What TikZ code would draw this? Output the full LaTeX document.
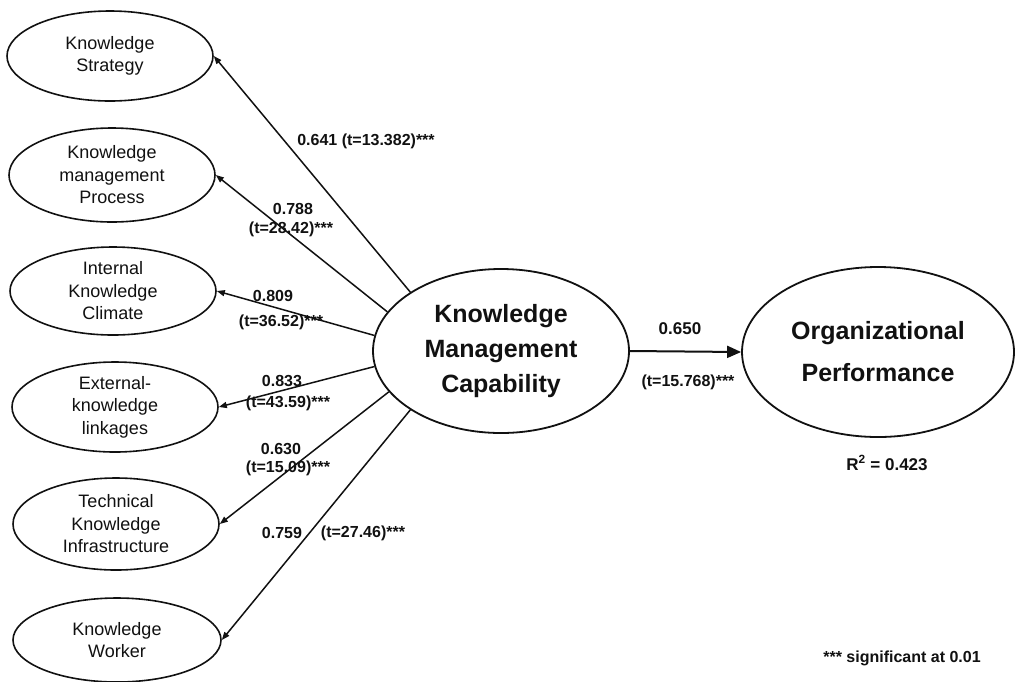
\documentclass[tikz,border=0pt]{standalone}
\usepackage{fontspec}
\setmainfont{Liberation Sans}
\usetikzlibrary{arrows.meta,shapes.geometric}
\definecolor{ink}{HTML}{111111}
\tikzset{
  latent/.style={ellipse, draw=ink, line width=1.6pt, inner sep=0pt, minimum width=206pt, minimum height=90pt, align=center, text=ink, font=\fontsize{18}{22.5}\selectfont},
  core/.style={ellipse, draw=ink, line width=1.8pt, inner sep=0pt, align=center, text=ink, font=\fontsize{25}{35}\selectfont\bfseries},
  coef/.style={font=\fontsize{16}{19}\selectfont\bfseries, text=ink, inner sep=0pt},
  load/.style={draw=ink, line width=1.5pt, -{Triangle[length=8pt,width=6pt]}},
}

\begin{document}
\begin{tikzpicture}[x=1pt, y=-1pt]
\useasboundingbox[fill=white] (0,0) rectangle (1017,681);
\node[latent] (ks) at (110,56) {Knowledge\\Strategy};
\node[latent, minimum height=94pt] (kmp) at (112,175) {Knowledge\\management\\Process};
\node[latent, minimum height=88pt] (ikc) at (113,291) {Internal\\Knowledge\\Climate};
\node[latent] (ekl) at (115,407) {External-\\knowledge\\linkages};
\node[latent, minimum height=92pt] (tki) at (116,524) {Technical\\Knowledge\\Infrastructure};
\node[latent, minimum height=84pt, minimum width=208pt] (kw) at (117,640) {Knowledge\\Worker};
\node[core, minimum width=256pt, minimum height=164pt] (kmc) at (501,351) {Knowledge\\Management\\Capability};
\node[core, minimum width=272pt, minimum height=170pt, font=\fontsize{25}{42}\selectfont\bfseries] (op) at (878,352) {Organizational\\Performance};
\draw[load] (kmc.147) -- (ks.east);
\draw[load] (kmc.161) -- (kmp.east);
\draw[load] (kmc.173) -- (ikc.east);
\draw[load] (kmc.187) -- (ekl.east);
\draw[load] (kmc.200) -- (tki.east);
\draw[load] (kmc.213) -- (kw.east);
\draw[load, line width=2pt, -{Triangle[length=14pt,width=12pt]}] (kmc.east) -- (op.west);
\node[coef] (c1) at (366,141) {0.641 (t=13.382)***};
\node[coef] (c2) at (293,209) {0.788};
\node[coef] (t2) at (291,229) {(t=28.42)***};
\node[coef] (c3) at (273,296) {0.809};
\node[coef] (t3) at (281,322) {(t=36.52)***};
\node[coef] (c4) at (282,381) {0.833};
\node[coef] (t4) at (288,403) {(t=43.59)***};
\node[coef] (c5) at (281,449) {0.630};
\node[coef] (t5) at (288,468) {(t=15.09)***};
\node[coef] (c6) at (282,533) {0.759};
\node[coef] (t6) at (363,533) {(t=27.46)***};
\node[coef, font=\fontsize{17}{20}\selectfont\bfseries] (c7) at (680,329) {0.650};
\node[coef] (t7) at (688,382) {(t=15.768)***};
\node[coef, font=\fontsize{17}{20}\selectfont\bfseries] (rsq) at (887,463) {R\textsuperscript{2} = 0.423};
\node[coef] (note) at (902,658) {*** significant at 0.01};
\end{tikzpicture}
\end{document}
